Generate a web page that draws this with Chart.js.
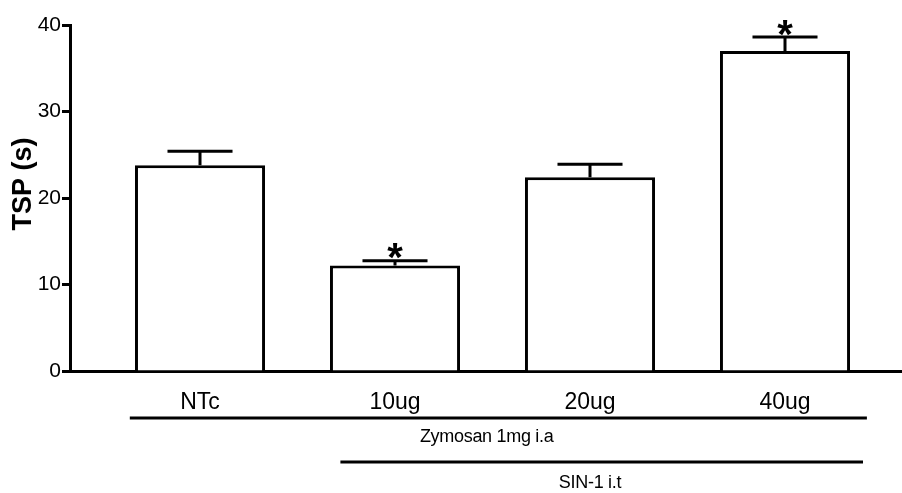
<!DOCTYPE html>
<html>
<head>
<meta charset="utf-8">
<script src="https://cdn.jsdelivr.net/npm/chart.js@4.4.1/dist/chart.umd.min.js"></script>
<style>
  html, body { margin: 0; padding: 0; background: #fff; }
  #wrap { width: 902px; height: 493px; }
</style>
</head>
<body>
<div id="wrap"><canvas id="c" width="902" height="493"></canvas></div>
<script>
// Tail-suspension period per group (mean ± SEM)
const categories = ['NTc', '10ug', '20ug', '40ug'];
const meanTSP = [23.8, 12.2, 22.4, 37.0];
const semTSP = [1.6, 0.55, 1.5, 1.6];
const significant = [false, true, false, true];
const yTicks = [0, 10, 20, 30, 40];

// Treatment brackets under the category labels (x in category units)
const treatmentLabels = ['Zymosan 1mg i.a', 'SIN-1 i.t'];
const treatmentStart = [-0.36, 0.72];
const treatmentEnd = [3.42, 3.40];
const treatmentLabelX = [1.47, 2.0];

const FONT = '"Liberation Sans", Arial, sans-serif';

const semPlugin = {
  id: 'semBars',
  afterDatasetsDraw(chart) {
    const { ctx, scales: { y } } = chart;
    const meta = chart.getDatasetMeta(0);
    ctx.save();
    ctx.strokeStyle = '#000';
    ctx.fillStyle = '#000';
    ctx.lineWidth = 3;
    meta.data.forEach((bar, i) => {
      const cx = bar.x;
      const half = bar.width / 4;
      const base = y.getPixelForValue(meanTSP[i]);
      const top = y.getPixelForValue(meanTSP[i] + semTSP[i]);
      ctx.beginPath();
      ctx.moveTo(cx, base);
      ctx.lineTo(cx, top);
      ctx.moveTo(cx - half, top);
      ctx.lineTo(cx + half, top);
      ctx.stroke();
      if (significant[i]) {
        const size = 40;
        ctx.font = 'bold ' + size + 'px ' + FONT;
        ctx.textAlign = 'center';
        ctx.textBaseline = 'alphabetic';
        ctx.fillText('*', cx, top - 12 + 0.56 * size);
      }
    });
    ctx.restore();
  },
  afterDraw(chart) {
    const { ctx, chartArea, scales: { x } } = chart;
    ctx.save();
    // y-axis title
    ctx.translate(24, 184);
    ctx.rotate(-Math.PI / 2);
    ctx.font = 'bold 27px ' + FONT;
    ctx.fillStyle = '#000';
    ctx.textAlign = 'center';
    ctx.textBaseline = 'middle';
    ctx.fillText('TSP (s)', 0, 0);
    ctx.restore();

    // treatment brackets
    ctx.save();
    ctx.strokeStyle = '#000';
    ctx.fillStyle = '#000';
    ctx.lineWidth = 3;
    ctx.font = '18px ' + FONT;
    ctx.textAlign = 'center';
    ctx.textBaseline = 'middle';
    if ('letterSpacing' in ctx) ctx.letterSpacing = '-0.3px';
    treatmentLabels.forEach((label, i) => {
      const lineY = chartArea.bottom + 47 + i * 44;
      ctx.beginPath();
      ctx.moveTo(x.getPixelForValue(treatmentStart[i]), lineY);
      ctx.lineTo(x.getPixelForValue(treatmentEnd[i]), lineY);
      ctx.stroke();
      ctx.fillText(label, x.getPixelForValue(treatmentLabelX[i]), lineY + 19 + i * 2);
    });
    ctx.restore();
  }
};

new Chart(document.getElementById('c'), {
  type: 'bar',
  data: {
    datasets: [{
      data: categories.map((c, i) => ({ x: i, y: meanTSP[i] })),
      backgroundColor: '#fff',
      borderColor: '#000',
      borderWidth: 3,
      borderSkipped: 'bottom',
      categoryPercentage: 0.667,
      barPercentage: 1
    }]
  },
  options: {
    responsive: false,
    animation: false,
    devicePixelRatio: 1,
    layout: { padding: { top: 25, right: 0, left: 0, bottom: 0 } },
    plugins: { legend: { display: false }, tooltip: { enabled: false } },
    scales: {
      x: {
        type: 'linear',
        offset: false,
        min: -0.6667,
        max: 3.6,
        grid: { display: false },
        border: { display: true, color: '#000', width: 3 },
        afterBuildTicks: s => { s.ticks = categories.map((_, i) => ({ value: i })); },
        afterFit: s => { s.height = 122; },
        ticks: {
          color: '#000',
          font: { family: FONT, size: 23 },
          padding: 10,
          maxRotation: 0,
          autoSkip: false,
          callback: v => categories[v] ?? ''
        }
      },
      y: {
        min: 0,
        max: 40,
        afterBuildTicks: s => { s.ticks = yTicks.map(v => ({ value: v })); },
        afterFit: s => { s.width = 70; },
        grid: { drawOnChartArea: false, drawTicks: true, tickLength: 8, tickWidth: 3, tickColor: '#000' },
        border: { display: true, color: '#000', width: 3 },
        ticks: { color: '#000', font: { family: FONT, size: 21 }, padding: 1 }
      }
    }
  },
  plugins: [semPlugin]
});
</script>
</body>
</html>
